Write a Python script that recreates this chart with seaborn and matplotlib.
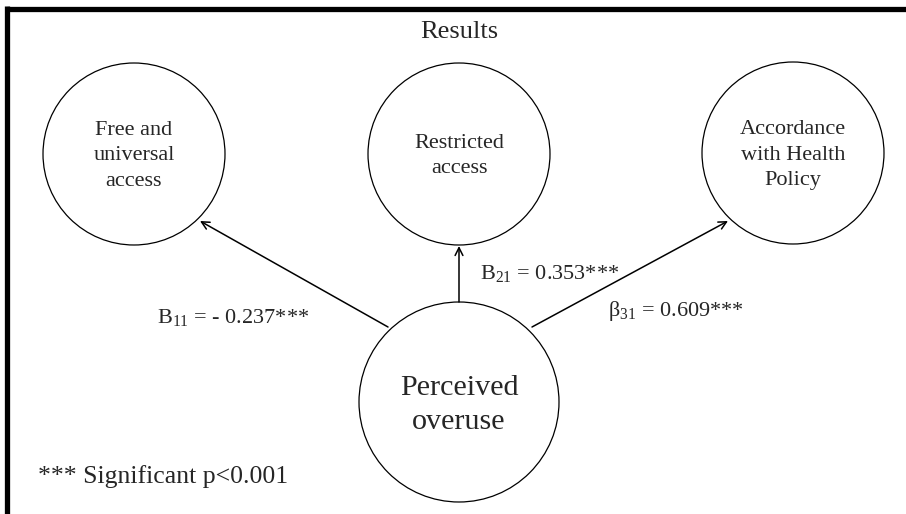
import matplotlib
matplotlib.use("Agg")
import matplotlib.pyplot as plt
from matplotlib.patches import Circle
import seaborn as sns

# data: node names and the path coefficients
outcomes = ["Free and\nuniversal\naccess", "Restricted\naccess", "Accordance\nwith Health\nPolicy"]
predictor = "Perceived\noveruse"
coef_symbol = ["B", "B", "β"]
coef_index = ["11", "21", "31"]
coef_value = ["- 0.237", "0.353", "0.609"]
stars = ["***", "***", "***"]
title = "Results"
footnote = "*** Significant p<0.001"

sns.set_theme(style="white")
plt.rcParams['font.family'] = ['Liberation Serif', 'DejaVu Serif']
plt.rcParams['mathtext.fontset'] = 'custom'
plt.rcParams['mathtext.rm'] = 'Liberation Serif'

# layout (pixel coords, y downwards)
out_xy = [(134, 154), (459, 154), (793, 153)]
out_r = 91
pred_xy = (459, 402)
pred_r = 100
arrow_from = [(388, 327), (459, 302), (532, 327)]
arrow_to = [(200, 221), (459, 246), (728, 221)]
label_xy = [(157, 323), (480, 279), (608, 316)]

fig = plt.figure(figsize=(9.06, 5.14), dpi=100)
ax = fig.add_axes([0, 0, 1, 1])
ax.set_xlim(0, 906)
ax.set_ylim(514, 0)
ax.axis("off")

# frame: only top and left edges
ax.plot([6.5, 906], [8.5, 8.5], color="black", lw=3.8, solid_capstyle="butt")
ax.plot([6.5, 6.5], [6, 514], color="black", lw=3.8, solid_capstyle="butt")

ax.text(459, 38, title, ha="center", va="baseline", fontsize=19)

for (x, y), name in zip(out_xy, outcomes):
    ax.add_patch(Circle((x, y), out_r, fill=False, ec="black", lw=0.9))
    ax.text(x, y + 2, name, ha="center", va="center", fontsize=16, linespacing=1.48)

ax.add_patch(Circle(pred_xy, pred_r, fill=False, ec="black", lw=0.9))
ax.text(pred_xy[0], pred_xy[1] + 3, predictor, ha="center", va="center",
        fontsize=21.7, linespacing=1.38)

for p0, p1 in zip(arrow_from, arrow_to):
    ax.annotate("", xy=p1, xytext=p0,
                arrowprops=dict(arrowstyle="->", color="black", lw=1.1,
                                shrinkA=0, shrinkB=0, mutation_scale=14))

for (x, y), s, i, v, st in zip(label_xy, coef_symbol, coef_index, coef_value, stars):
    txt = s + r"$_{\mathrm{" + i + "}}$" + " = " + v + st
    ax.text(x, y, txt, ha="left", va="baseline", fontsize=16)

ax.text(38, 483, footnote, ha="left", va="baseline", fontsize=18.5)

fig.savefig("out.png", dpi=100)
